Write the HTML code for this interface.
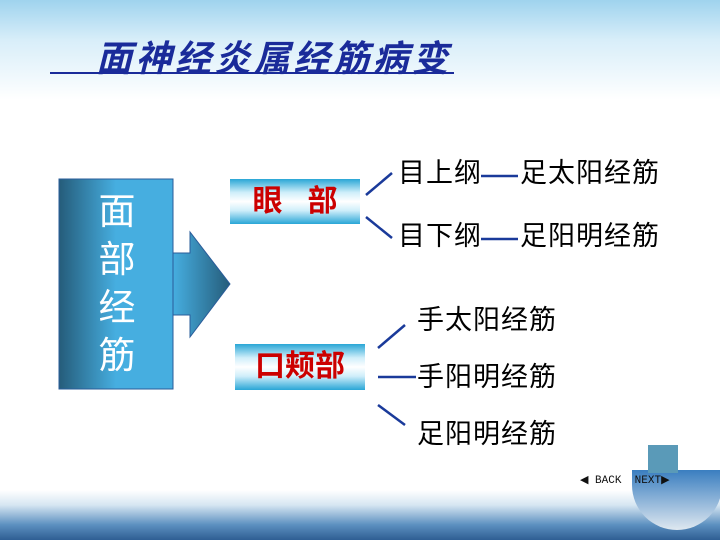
<!DOCTYPE html>
<html><head><meta charset="utf-8"><style>
body{margin:0;width:720px;height:540px;overflow:hidden;position:relative;font-family:"Liberation Sans","Noto Sans CJK SC",sans-serif;
background:linear-gradient(#9fd3ee 0px,#d8eef9 40px,#fff 100px,#fff 490px,#d6e6f2 505px,#5b8fbf 525px,#2e5e93 540px);}
.t{position:absolute;white-space:nowrap}
.bx{position:absolute;background:linear-gradient(#29a6d6 0%,#cfeefa 30%,#fff 50%,#cfeefa 70%,#29a6d6 100%);color:#cc0000;font-weight:bold;font-size:30px;text-align:center}
.r{font-size:27px;color:#000;line-height:30px;letter-spacing:1px}
</style></head><body>
<div class="t" style="left:50px;top:32px;width:404px;border-bottom:2px solid #1a2b9a;height:40px"></div>
<div class="t" style="left:96px;top:30px;font-size:36px;font-style:italic;font-weight:bold;color:#1a2b9a;letter-spacing:3.5px">面神经炎属经筋病变</div>
<svg width="720" height="540" style="position:absolute;left:0;top:0">
<defs><linearGradient id="g" x1="0" x2="1"><stop offset="0" stop-color="#255c7a"/><stop offset="0.5" stop-color="#46aee0"/><stop offset="1" stop-color="#46aee0"/></linearGradient>
<linearGradient id="g2" x1="0" x2="1"><stop offset="0" stop-color="#46aee0"/><stop offset="1" stop-color="#255c7a"/></linearGradient></defs>
<rect x="59" y="179" width="114" height="210" fill="url(#g)" stroke="#2a5c9a"/>
<polygon points="173,253 190,253 190,232 230,284 190,337 190,315 173,315" fill="url(#g2)" stroke="#2a5c9a"/>
<g stroke="#1a3a9a" stroke-width="2.5">
<line x1="366" y1="195" x2="392" y2="173"/><line x1="366" y1="217" x2="392" y2="238"/>
<line x1="378" y1="348" x2="405" y2="325"/><line x1="378" y1="377" x2="416" y2="377"/><line x1="378" y1="405" x2="405" y2="425"/>
<line x1="481" y1="176" x2="518" y2="176"/><line x1="481" y1="239" x2="518" y2="239"/>
</g></svg>
<div class="t" style="left:97px;top:188px;width:40px;font-size:37px;line-height:48px;color:#fff;text-align:center">面<br>部<br>经<br>筋</div>
<div class="bx" style="left:230px;top:179px;width:130px;height:45px;line-height:45px">眼&nbsp;&nbsp;&nbsp;部</div>
<div class="bx" style="left:235px;top:344px;width:130px;height:46px;line-height:46px">口颊部</div>
<div class="t r" style="left:398px;top:158px">目上纲</div><div class="t r" style="left:520px;top:158px">足太阳经筋</div>
<div class="t r" style="left:398px;top:221px">目下纲</div><div class="t r" style="left:520px;top:221px">足阳明经筋</div>
<div class="t r" style="left:417px;top:305px">手太阳经筋</div>
<div class="t r" style="left:417px;top:362px">手阳明经筋</div>
<div class="t r" style="left:417px;top:419px">足阳明经筋</div>
<div class="t" style="left:632px;top:470px;width:90px;height:60px;border-radius:0 0 45px 45px;background:linear-gradient(#3a7ec0,#dfe8f0)"></div>
<div class="t" style="left:648px;top:445px;width:30px;height:28px;background:#5a9ab8"></div>
<div class="t" style="left:580px;top:473px;font-size:11px;color:#111;font-family:'Liberation Mono',monospace">◀ BACK &nbsp;NEXT▶</div>
</body></html>
